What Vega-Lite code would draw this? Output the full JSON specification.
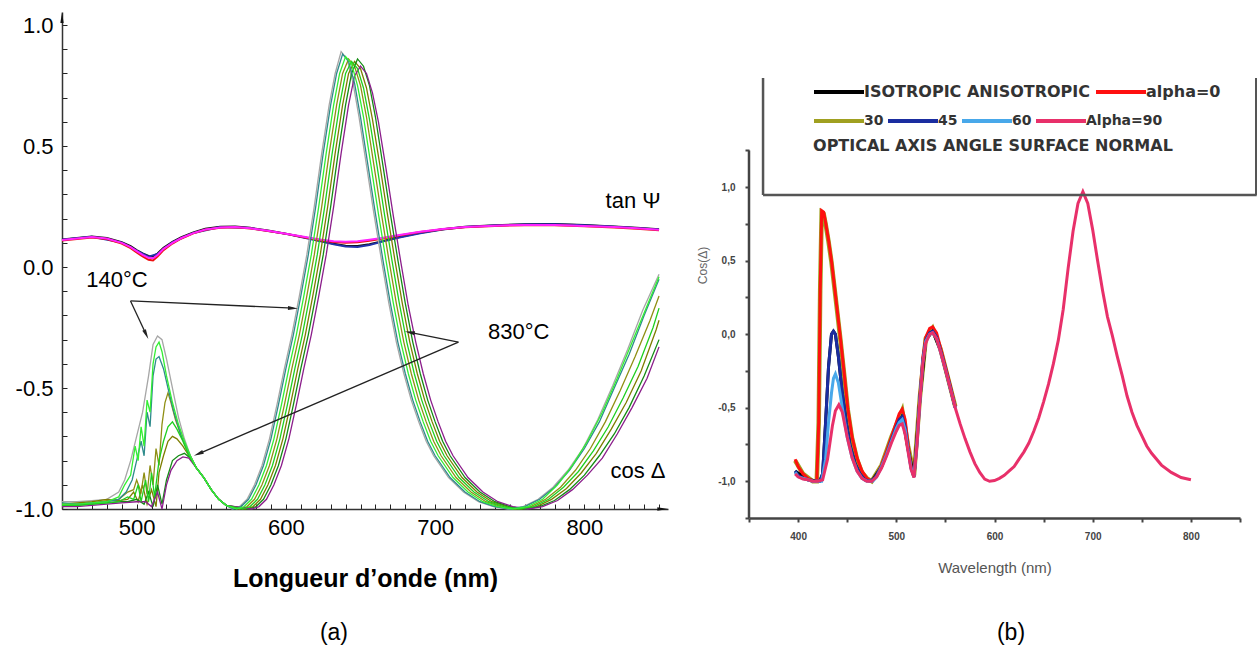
{
"$schema": "https://vega.github.io/schema/vega-lite/v6.json",
"background": "white",
"padding": {"left": 15, "top": 12, "right": 0, "bottom": 0},
"bounds": "flush",
"spacing": 81,
"config": {"view": {"stroke": null}, "axis": {"grid": false, "labelOverlap": false}, "font": "Liberation Sans"},
"datasets": {
"tan": [
{"s":"k","x":450,"y":0.114},{"s":"k","x":460,"y":0.12},{"s":"k","x":470,"y":0.126},{"s":"k","x":480,"y":0.12},{"s":"k","x":490,"y":0.103},{"s":"k","x":496,"y":0.086},{"s":"k","x":500,"y":0.07},{"s":"k","x":504,"y":0.056},{"s":"k","x":508,"y":0.046},{"s":"k","x":511,"y":0.044},{"s":"k","x":514,"y":0.056},{"s":"k","x":518,"y":0.08},{"s":"k","x":524,"y":0.104},{"s":"k","x":530,"y":0.123},{"s":"k","x":538,"y":0.143},{"s":"k","x":546,"y":0.158},{"s":"k","x":556,"y":0.166},{"s":"k","x":566,"y":0.167},{"s":"k","x":576,"y":0.162},{"s":"k","x":588,"y":0.151},{"s":"k","x":600,"y":0.138},{"s":"k","x":612,"y":0.123},{"s":"k","x":624,"y":0.107},{"s":"k","x":632,"y":0.096},{"s":"k","x":640,"y":0.088},{"s":"k","x":648,"y":0.087},{"s":"k","x":656,"y":0.094},{"s":"k","x":664,"y":0.106},{"s":"k","x":676,"y":0.124},{"s":"k","x":690,"y":0.142},{"s":"k","x":705,"y":0.156},{"s":"k","x":720,"y":0.166},{"s":"k","x":740,"y":0.173},{"s":"k","x":760,"y":0.177},{"s":"k","x":780,"y":0.178},{"s":"k","x":800,"y":0.174},{"s":"k","x":820,"y":0.168},{"s":"k","x":835,"y":0.162},{"s":"k","x":850,"y":0.156},
{"s":"b","x":450,"y":0.113},{"s":"b","x":470,"y":0.125},{"s":"b","x":490,"y":0.101},{"s":"b","x":500,"y":0.068},{"s":"b","x":508,"y":0.043},{"s":"b","x":514,"y":0.054},{"s":"b","x":524,"y":0.102},{"s":"b","x":538,"y":0.141},{"s":"b","x":556,"y":0.165},{"s":"b","x":576,"y":0.161},{"s":"b","x":600,"y":0.137},{"s":"b","x":624,"y":0.105},{"s":"b","x":632,"y":0.094},{"s":"b","x":640,"y":0.085},{"s":"b","x":648,"y":0.083},{"s":"b","x":656,"y":0.091},{"s":"b","x":664,"y":0.104},{"s":"b","x":676,"y":0.122},{"s":"b","x":690,"y":0.14},{"s":"b","x":705,"y":0.155},{"s":"b","x":720,"y":0.165},{"s":"b","x":740,"y":0.172},{"s":"b","x":760,"y":0.176},{"s":"b","x":780,"y":0.177},{"s":"b","x":800,"y":0.173},{"s":"b","x":820,"y":0.167},{"s":"b","x":850,"y":0.155},
{"s":"r","x":450,"y":0.11},{"s":"r","x":460,"y":0.116},{"s":"r","x":470,"y":0.122},{"s":"r","x":480,"y":0.116},{"s":"r","x":490,"y":0.097},{"s":"r","x":496,"y":0.078},{"s":"r","x":500,"y":0.06},{"s":"r","x":504,"y":0.044},{"s":"r","x":508,"y":0.03},{"s":"r","x":511,"y":0.027},{"s":"r","x":514,"y":0.043},{"s":"r","x":518,"y":0.07},{"s":"r","x":524,"y":0.097},{"s":"r","x":530,"y":0.118},{"s":"r","x":538,"y":0.139},{"s":"r","x":546,"y":0.154},{"s":"r","x":556,"y":0.162},{"s":"r","x":566,"y":0.164},{"s":"r","x":576,"y":0.159},{"s":"r","x":588,"y":0.149},{"s":"r","x":600,"y":0.137},{"s":"r","x":612,"y":0.123},{"s":"r","x":624,"y":0.11},{"s":"r","x":632,"y":0.103},{"s":"r","x":640,"y":0.1},{"s":"r","x":648,"y":0.102},{"s":"r","x":656,"y":0.109},{"s":"r","x":664,"y":0.117},{"s":"r","x":676,"y":0.13},{"s":"r","x":690,"y":0.145},{"s":"r","x":705,"y":0.156},{"s":"r","x":720,"y":0.164},{"s":"r","x":740,"y":0.17},{"s":"r","x":760,"y":0.173},{"s":"r","x":780,"y":0.173},{"s":"r","x":800,"y":0.169},{"s":"r","x":820,"y":0.163},{"s":"r","x":835,"y":0.158},{"s":"r","x":850,"y":0.152},
{"s":"m","x":450,"y":0.112},{"s":"m","x":460,"y":0.118},{"s":"m","x":470,"y":0.124},{"s":"m","x":480,"y":0.118},{"s":"m","x":490,"y":0.1},{"s":"m","x":496,"y":0.082},{"s":"m","x":500,"y":0.066},{"s":"m","x":504,"y":0.05},{"s":"m","x":508,"y":0.038},{"s":"m","x":511,"y":0.036},{"s":"m","x":514,"y":0.05},{"s":"m","x":518,"y":0.075},{"s":"m","x":524,"y":0.1},{"s":"m","x":530,"y":0.12},{"s":"m","x":538,"y":0.14},{"s":"m","x":546,"y":0.155},{"s":"m","x":556,"y":0.163},{"s":"m","x":566,"y":0.165},{"s":"m","x":576,"y":0.16},{"s":"m","x":588,"y":0.15},{"s":"m","x":600,"y":0.138},{"s":"m","x":612,"y":0.125},{"s":"m","x":624,"y":0.113},{"s":"m","x":632,"y":0.107},{"s":"m","x":640,"y":0.105},{"s":"m","x":648,"y":0.107},{"s":"m","x":656,"y":0.113},{"s":"m","x":664,"y":0.12},{"s":"m","x":676,"y":0.132},{"s":"m","x":690,"y":0.146},{"s":"m","x":705,"y":0.157},{"s":"m","x":720,"y":0.165},{"s":"m","x":740,"y":0.171},{"s":"m","x":760,"y":0.174},{"s":"m","x":780,"y":0.174},{"s":"m","x":800,"y":0.17},{"s":"m","x":820,"y":0.165},{"s":"m","x":835,"y":0.16},{"s":"m","x":850,"y":0.154}
],
"cos": [
{"t":"140°C","x":450,"y":-0.97},{"t":"140°C","x":460,"y":-0.97},{"t":"140°C","x":470,"y":-0.965},{"t":"140°C","x":480,"y":-0.96},{"t":"140°C","x":488,"y":-0.93},{"t":"140°C","x":492,"y":-0.88},{"t":"140°C","x":496,"y":-0.8},{"t":"140°C","x":500,"y":-0.7},{"t":"140°C","x":504,"y":-0.6},{"t":"140°C","x":508,"y":-0.45},{"t":"140°C","x":511,"y":-0.32},{"t":"140°C","x":514,"y":-0.285},{"t":"140°C","x":517,"y":-0.3},{"t":"140°C","x":520,"y":-0.38},{"t":"140°C","x":524,"y":-0.5},{"t":"140°C","x":528,"y":-0.62},{"t":"140°C","x":532,"y":-0.71},{"t":"140°C","x":536,"y":-0.78},{"t":"140°C","x":540,"y":-0.83},{"t":"140°C","x":545,"y":-0.87},{"t":"140°C","x":550,"y":-0.92},{"t":"140°C","x":555,"y":-0.96},{"t":"140°C","x":560,"y":-0.985},{"t":"140°C","x":564,"y":-1},{"t":"140°C","x":569,"y":-0.99},{"t":"140°C","x":574,"y":-0.96},{"t":"140°C","x":579,"y":-0.9},{"t":"140°C","x":584,"y":-0.82},{"t":"140°C","x":589,"y":-0.71},{"t":"140°C","x":594,"y":-0.57},{"t":"140°C","x":599,"y":-0.42},{"t":"140°C","x":604,"y":-0.28},{"t":"140°C","x":609,"y":-0.12},{"t":"140°C","x":614,"y":0.05},{"t":"140°C","x":619,"y":0.25},{"t":"140°C","x":624,"y":0.47},{"t":"140°C","x":629,"y":0.67},{"t":"140°C","x":633,"y":0.8},{"t":"140°C","x":637,"y":0.89},{"t":"140°C","x":641,"y":0.86},{"t":"140°C","x":645,"y":0.76},{"t":"140°C","x":649,"y":0.62},{"t":"140°C","x":654,"y":0.42},{"t":"140°C","x":659,"y":0.22},{"t":"140°C","x":664,"y":0.03},{"t":"140°C","x":669,"y":-0.15},{"t":"140°C","x":674,"y":-0.31},{"t":"140°C","x":679,"y":-0.44},{"t":"140°C","x":684,"y":-0.55},{"t":"140°C","x":689,"y":-0.64},{"t":"140°C","x":694,"y":-0.72},{"t":"140°C","x":699,"y":-0.78},{"t":"140°C","x":709,"y":-0.87},{"t":"140°C","x":719,"y":-0.93},{"t":"140°C","x":729,"y":-0.97},{"t":"140°C","x":739,"y":-0.99},{"t":"140°C","x":749,"y":-1},{"t":"140°C","x":759,"y":-0.99},{"t":"140°C","x":769,"y":-0.96},{"t":"140°C","x":779,"y":-0.91},{"t":"140°C","x":789,"y":-0.84},{"t":"140°C","x":799,"y":-0.75},{"t":"140°C","x":809,"y":-0.63},{"t":"140°C","x":819,"y":-0.49},{"t":"140°C","x":829,"y":-0.34},{"t":"140°C","x":839,"y":-0.18},{"t":"140°C","x":850,"y":-0.03},
{"t":"640°C","x":450,"y":-0.98},{"t":"640°C","x":460,"y":-0.975},{"t":"640°C","x":470,"y":-0.97},{"t":"640°C","x":480,"y":-0.96},{"t":"640°C","x":488,"y":-0.965},{"t":"640°C","x":494,"y":-0.96},{"t":"640°C","x":498,"y":-0.93},{"t":"640°C","x":501,"y":-0.97},{"t":"640°C","x":504,"y":-0.9},{"t":"640°C","x":507,"y":-0.98},{"t":"640°C","x":510,"y":-0.92},{"t":"640°C","x":513,"y":-0.99},{"t":"640°C","x":515,"y":-0.85},{"t":"640°C","x":518,"y":-0.78},{"t":"640°C","x":521,"y":-0.72},{"t":"640°C","x":524,"y":-0.7},{"t":"640°C","x":527,"y":-0.71},{"t":"640°C","x":531,"y":-0.74},{"t":"640°C","x":535,"y":-0.78},{"t":"640°C","x":540,"y":-0.83},{"t":"640°C","x":545,"y":-0.87},{"t":"640°C","x":550,"y":-0.92},{"t":"640°C","x":555,"y":-0.96},{"t":"640°C","x":560,"y":-0.985},{"t":"640°C","x":573,"y":-1},{"t":"640°C","x":578,"y":-0.99},{"t":"640°C","x":583,"y":-0.96},{"t":"640°C","x":588,"y":-0.9},{"t":"640°C","x":593,"y":-0.82},{"t":"640°C","x":598,"y":-0.71},{"t":"640°C","x":603,"y":-0.57},{"t":"640°C","x":608,"y":-0.42},{"t":"640°C","x":613,"y":-0.28},{"t":"640°C","x":618,"y":-0.12},{"t":"640°C","x":623,"y":0.05},{"t":"640°C","x":628,"y":0.25},{"t":"640°C","x":633,"y":0.47},{"t":"640°C","x":638,"y":0.67},{"t":"640°C","x":642,"y":0.8},{"t":"640°C","x":646,"y":0.85},{"t":"640°C","x":650,"y":0.82},{"t":"640°C","x":654,"y":0.74},{"t":"640°C","x":658,"y":0.61},{"t":"640°C","x":663,"y":0.42},{"t":"640°C","x":668,"y":0.22},{"t":"640°C","x":673,"y":0.03},{"t":"640°C","x":678,"y":-0.15},{"t":"640°C","x":683,"y":-0.31},{"t":"640°C","x":688,"y":-0.44},{"t":"640°C","x":693,"y":-0.55},{"t":"640°C","x":698,"y":-0.64},{"t":"640°C","x":703,"y":-0.72},{"t":"640°C","x":708,"y":-0.78},{"t":"640°C","x":718,"y":-0.87},{"t":"640°C","x":728,"y":-0.93},{"t":"640°C","x":738,"y":-0.97},{"t":"640°C","x":748,"y":-0.99},{"t":"640°C","x":758,"y":-1},{"t":"640°C","x":768,"y":-0.99},{"t":"640°C","x":778,"y":-0.96},{"t":"640°C","x":788,"y":-0.915},{"t":"640°C","x":798,"y":-0.85},{"t":"640°C","x":808,"y":-0.77},{"t":"640°C","x":818,"y":-0.67},{"t":"640°C","x":828,"y":-0.56},{"t":"640°C","x":838,"y":-0.43},{"t":"640°C","x":848,"y":-0.26},{"t":"640°C","x":850,"y":-0.22},
{"t":"440°C","x":450,"y":-0.985},{"t":"440°C","x":460,"y":-0.98},{"t":"440°C","x":470,"y":-0.975},{"t":"440°C","x":480,"y":-0.965},{"t":"440°C","x":488,"y":-0.96},{"t":"440°C","x":494,"y":-0.93},{"t":"440°C","x":498,"y":-0.92},{"t":"440°C","x":500,"y":-0.88},{"t":"440°C","x":503,"y":-0.93},{"t":"440°C","x":505,"y":-0.85},{"t":"440°C","x":507,"y":-0.94},{"t":"440°C","x":509,"y":-0.82},{"t":"440°C","x":511,"y":-0.9},{"t":"440°C","x":513,"y":-0.75},{"t":"440°C","x":515,"y":-0.82},{"t":"440°C","x":517,"y":-0.65},{"t":"440°C","x":519,"y":-0.56},{"t":"440°C","x":521,"y":-0.52},{"t":"440°C","x":523,"y":-0.56},{"t":"440°C","x":526,"y":-0.63},{"t":"440°C","x":530,"y":-0.7},{"t":"440°C","x":535,"y":-0.77},{"t":"440°C","x":540,"y":-0.83},{"t":"440°C","x":545,"y":-0.87},{"t":"440°C","x":550,"y":-0.92},{"t":"440°C","x":555,"y":-0.96},{"t":"440°C","x":560,"y":-0.985},{"t":"440°C","x":569,"y":-1},{"t":"440°C","x":574,"y":-0.99},{"t":"440°C","x":579,"y":-0.96},{"t":"440°C","x":584,"y":-0.9},{"t":"440°C","x":589,"y":-0.82},{"t":"440°C","x":594,"y":-0.71},{"t":"440°C","x":599,"y":-0.57},{"t":"440°C","x":604,"y":-0.42},{"t":"440°C","x":609,"y":-0.28},{"t":"440°C","x":614,"y":-0.12},{"t":"440°C","x":619,"y":0.05},{"t":"440°C","x":624,"y":0.25},{"t":"440°C","x":629,"y":0.47},{"t":"440°C","x":634,"y":0.67},{"t":"440°C","x":638,"y":0.8},{"t":"440°C","x":642,"y":0.86},{"t":"440°C","x":646,"y":0.83},{"t":"440°C","x":650,"y":0.75},{"t":"440°C","x":654,"y":0.62},{"t":"440°C","x":659,"y":0.42},{"t":"440°C","x":664,"y":0.22},{"t":"440°C","x":669,"y":0.03},{"t":"440°C","x":674,"y":-0.15},{"t":"440°C","x":679,"y":-0.31},{"t":"440°C","x":684,"y":-0.44},{"t":"440°C","x":689,"y":-0.55},{"t":"440°C","x":694,"y":-0.64},{"t":"440°C","x":699,"y":-0.72},{"t":"440°C","x":704,"y":-0.78},{"t":"440°C","x":714,"y":-0.87},{"t":"440°C","x":724,"y":-0.93},{"t":"440°C","x":734,"y":-0.97},{"t":"440°C","x":744,"y":-0.99},{"t":"440°C","x":754,"y":-1},{"t":"440°C","x":764,"y":-0.99},{"t":"440°C","x":774,"y":-0.96},{"t":"440°C","x":784,"y":-0.91},{"t":"440°C","x":794,"y":-0.84},{"t":"440°C","x":804,"y":-0.75},{"t":"440°C","x":814,"y":-0.64},{"t":"440°C","x":824,"y":-0.51},{"t":"440°C","x":834,"y":-0.37},{"t":"440°C","x":844,"y":-0.22},{"t":"440°C","x":850,"y":-0.12},
{"t":"740°C","x":450,"y":-0.99},{"t":"740°C","x":460,"y":-0.985},{"t":"740°C","x":470,"y":-0.98},{"t":"740°C","x":480,"y":-0.975},{"t":"740°C","x":488,"y":-0.97},{"t":"740°C","x":494,"y":-0.97},{"t":"740°C","x":500,"y":-0.96},{"t":"740°C","x":505,"y":-0.98},{"t":"740°C","x":508,"y":-0.93},{"t":"740°C","x":511,"y":-0.99},{"t":"740°C","x":514,"y":-0.9},{"t":"740°C","x":517,"y":-0.98},{"t":"740°C","x":520,"y":-0.88},{"t":"740°C","x":524,"y":-0.8},{"t":"740°C","x":528,"y":-0.78},{"t":"740°C","x":532,"y":-0.77},{"t":"740°C","x":536,"y":-0.79},{"t":"740°C","x":540,"y":-0.83},{"t":"740°C","x":545,"y":-0.87},{"t":"740°C","x":550,"y":-0.92},{"t":"740°C","x":555,"y":-0.96},{"t":"740°C","x":560,"y":-0.985},{"t":"740°C","x":575,"y":-1},{"t":"740°C","x":580,"y":-0.99},{"t":"740°C","x":585,"y":-0.96},{"t":"740°C","x":590,"y":-0.9},{"t":"740°C","x":595,"y":-0.82},{"t":"740°C","x":600,"y":-0.71},{"t":"740°C","x":605,"y":-0.57},{"t":"740°C","x":610,"y":-0.42},{"t":"740°C","x":615,"y":-0.28},{"t":"740°C","x":620,"y":-0.12},{"t":"740°C","x":625,"y":0.05},{"t":"740°C","x":630,"y":0.25},{"t":"740°C","x":635,"y":0.47},{"t":"740°C","x":640,"y":0.67},{"t":"740°C","x":644,"y":0.8},{"t":"740°C","x":648,"y":0.86},{"t":"740°C","x":652,"y":0.83},{"t":"740°C","x":656,"y":0.75},{"t":"740°C","x":660,"y":0.62},{"t":"740°C","x":665,"y":0.42},{"t":"740°C","x":670,"y":0.22},{"t":"740°C","x":675,"y":0.03},{"t":"740°C","x":680,"y":-0.15},{"t":"740°C","x":685,"y":-0.31},{"t":"740°C","x":690,"y":-0.44},{"t":"740°C","x":695,"y":-0.55},{"t":"740°C","x":700,"y":-0.64},{"t":"740°C","x":705,"y":-0.72},{"t":"740°C","x":710,"y":-0.78},{"t":"740°C","x":720,"y":-0.87},{"t":"740°C","x":730,"y":-0.93},{"t":"740°C","x":740,"y":-0.97},{"t":"740°C","x":750,"y":-0.99},{"t":"740°C","x":760,"y":-1},{"t":"740°C","x":770,"y":-0.99},{"t":"740°C","x":780,"y":-0.965},{"t":"740°C","x":790,"y":-0.92},{"t":"740°C","x":800,"y":-0.86},{"t":"740°C","x":810,"y":-0.78},{"t":"740°C","x":820,"y":-0.69},{"t":"740°C","x":830,"y":-0.58},{"t":"740°C","x":840,"y":-0.45},{"t":"740°C","x":850,"y":-0.3},
{"t":"830°C","x":450,"y":-0.99},{"t":"830°C","x":460,"y":-0.99},{"t":"830°C","x":470,"y":-0.985},{"t":"830°C","x":480,"y":-0.98},{"t":"830°C","x":490,"y":-0.975},{"t":"830°C","x":500,"y":-0.97},{"t":"830°C","x":506,"y":-0.97},{"t":"830°C","x":510,"y":-0.99},{"t":"830°C","x":514,"y":-0.93},{"t":"830°C","x":517,"y":-1},{"t":"830°C","x":520,"y":-0.9},{"t":"830°C","x":523,"y":-0.84},{"t":"830°C","x":527,"y":-0.8},{"t":"830°C","x":531,"y":-0.785},{"t":"830°C","x":535,"y":-0.79},{"t":"830°C","x":540,"y":-0.83},{"t":"830°C","x":545,"y":-0.87},{"t":"830°C","x":550,"y":-0.92},{"t":"830°C","x":555,"y":-0.96},{"t":"830°C","x":560,"y":-0.985},{"t":"830°C","x":577,"y":-1},{"t":"830°C","x":582,"y":-0.99},{"t":"830°C","x":587,"y":-0.96},{"t":"830°C","x":592,"y":-0.9},{"t":"830°C","x":597,"y":-0.82},{"t":"830°C","x":602,"y":-0.71},{"t":"830°C","x":607,"y":-0.57},{"t":"830°C","x":612,"y":-0.42},{"t":"830°C","x":617,"y":-0.28},{"t":"830°C","x":622,"y":-0.12},{"t":"830°C","x":627,"y":0.05},{"t":"830°C","x":632,"y":0.25},{"t":"830°C","x":637,"y":0.47},{"t":"830°C","x":642,"y":0.67},{"t":"830°C","x":646,"y":0.79},{"t":"830°C","x":650,"y":0.83},{"t":"830°C","x":654,"y":0.8},{"t":"830°C","x":658,"y":0.72},{"t":"830°C","x":662,"y":0.6},{"t":"830°C","x":667,"y":0.41},{"t":"830°C","x":672,"y":0.21},{"t":"830°C","x":677,"y":0.02},{"t":"830°C","x":682,"y":-0.16},{"t":"830°C","x":687,"y":-0.31},{"t":"830°C","x":692,"y":-0.44},{"t":"830°C","x":697,"y":-0.55},{"t":"830°C","x":702,"y":-0.64},{"t":"830°C","x":707,"y":-0.72},{"t":"830°C","x":712,"y":-0.78},{"t":"830°C","x":722,"y":-0.87},{"t":"830°C","x":732,"y":-0.93},{"t":"830°C","x":742,"y":-0.97},{"t":"830°C","x":752,"y":-0.99},{"t":"830°C","x":762,"y":-1},{"t":"830°C","x":772,"y":-0.99},{"t":"830°C","x":782,"y":-0.965},{"t":"830°C","x":792,"y":-0.92},{"t":"830°C","x":802,"y":-0.86},{"t":"830°C","x":812,"y":-0.79},{"t":"830°C","x":822,"y":-0.69},{"t":"830°C","x":832,"y":-0.58},{"t":"830°C","x":842,"y":-0.46},{"t":"830°C","x":850,"y":-0.33},
{"t":"240°C","x":450,"y":-0.975},{"t":"240°C","x":460,"y":-0.98},{"t":"240°C","x":470,"y":-0.975},{"t":"240°C","x":480,"y":-0.97},{"t":"240°C","x":488,"y":-0.96},{"t":"240°C","x":493,"y":-0.93},{"t":"240°C","x":497,"y":-0.88},{"t":"240°C","x":500,"y":-0.8},{"t":"240°C","x":503,"y":-0.72},{"t":"240°C","x":505,"y":-0.78},{"t":"240°C","x":507,"y":-0.6},{"t":"240°C","x":509,"y":-0.66},{"t":"240°C","x":511,"y":-0.45},{"t":"240°C","x":513,"y":-0.38},{"t":"240°C","x":515,"y":-0.37},{"t":"240°C","x":518,"y":-0.42},{"t":"240°C","x":521,"y":-0.5},{"t":"240°C","x":525,"y":-0.6},{"t":"240°C","x":530,"y":-0.7},{"t":"240°C","x":535,"y":-0.77},{"t":"240°C","x":540,"y":-0.83},{"t":"240°C","x":545,"y":-0.87},{"t":"240°C","x":550,"y":-0.92},{"t":"240°C","x":555,"y":-0.96},{"t":"240°C","x":560,"y":-0.985},{"t":"240°C","x":565,"y":-1},{"t":"240°C","x":570,"y":-0.99},{"t":"240°C","x":575,"y":-0.96},{"t":"240°C","x":580,"y":-0.9},{"t":"240°C","x":585,"y":-0.82},{"t":"240°C","x":590,"y":-0.71},{"t":"240°C","x":595,"y":-0.57},{"t":"240°C","x":600,"y":-0.42},{"t":"240°C","x":605,"y":-0.28},{"t":"240°C","x":610,"y":-0.12},{"t":"240°C","x":615,"y":0.05},{"t":"240°C","x":620,"y":0.25},{"t":"240°C","x":625,"y":0.47},{"t":"240°C","x":630,"y":0.67},{"t":"240°C","x":634,"y":0.8},{"t":"240°C","x":638,"y":0.88},{"t":"240°C","x":642,"y":0.85},{"t":"240°C","x":646,"y":0.76},{"t":"240°C","x":650,"y":0.62},{"t":"240°C","x":655,"y":0.42},{"t":"240°C","x":660,"y":0.22},{"t":"240°C","x":665,"y":0.03},{"t":"240°C","x":670,"y":-0.15},{"t":"240°C","x":675,"y":-0.31},{"t":"240°C","x":680,"y":-0.44},{"t":"240°C","x":685,"y":-0.55},{"t":"240°C","x":690,"y":-0.64},{"t":"240°C","x":695,"y":-0.72},{"t":"240°C","x":700,"y":-0.78},{"t":"240°C","x":710,"y":-0.87},{"t":"240°C","x":720,"y":-0.93},{"t":"240°C","x":730,"y":-0.97},{"t":"240°C","x":740,"y":-0.99},{"t":"240°C","x":750,"y":-1},{"t":"240°C","x":760,"y":-0.99},{"t":"240°C","x":770,"y":-0.96},{"t":"240°C","x":780,"y":-0.91},{"t":"240°C","x":790,"y":-0.84},{"t":"240°C","x":800,"y":-0.75},{"t":"240°C","x":810,"y":-0.64},{"t":"240°C","x":820,"y":-0.5},{"t":"240°C","x":830,"y":-0.36},{"t":"240°C","x":840,"y":-0.2},{"t":"240°C","x":850,"y":-0.05},
{"t":"540°C","x":450,"y":-0.985},{"t":"540°C","x":460,"y":-0.985},{"t":"540°C","x":470,"y":-0.98},{"t":"540°C","x":480,"y":-0.975},{"t":"540°C","x":488,"y":-0.97},{"t":"540°C","x":494,"y":-0.95},{"t":"540°C","x":498,"y":-0.96},{"t":"540°C","x":501,"y":-0.9},{"t":"540°C","x":503,"y":-0.97},{"t":"540°C","x":506,"y":-0.88},{"t":"540°C","x":508,"y":-0.97},{"t":"540°C","x":510,"y":-0.85},{"t":"540°C","x":512,"y":-0.95},{"t":"540°C","x":515,"y":-0.8},{"t":"540°C","x":518,"y":-0.72},{"t":"540°C","x":521,"y":-0.66},{"t":"540°C","x":524,"y":-0.64},{"t":"540°C","x":527,"y":-0.67},{"t":"540°C","x":531,"y":-0.72},{"t":"540°C","x":535,"y":-0.78},{"t":"540°C","x":540,"y":-0.83},{"t":"540°C","x":545,"y":-0.87},{"t":"540°C","x":550,"y":-0.92},{"t":"540°C","x":555,"y":-0.96},{"t":"540°C","x":560,"y":-0.985},{"t":"540°C","x":571,"y":-1},{"t":"540°C","x":576,"y":-0.99},{"t":"540°C","x":581,"y":-0.96},{"t":"540°C","x":586,"y":-0.9},{"t":"540°C","x":591,"y":-0.82},{"t":"540°C","x":596,"y":-0.71},{"t":"540°C","x":601,"y":-0.57},{"t":"540°C","x":606,"y":-0.42},{"t":"540°C","x":611,"y":-0.28},{"t":"540°C","x":616,"y":-0.12},{"t":"540°C","x":621,"y":0.05},{"t":"540°C","x":626,"y":0.25},{"t":"540°C","x":631,"y":0.47},{"t":"540°C","x":636,"y":0.67},{"t":"540°C","x":640,"y":0.8},{"t":"540°C","x":644,"y":0.85},{"t":"540°C","x":648,"y":0.82},{"t":"540°C","x":652,"y":0.74},{"t":"540°C","x":656,"y":0.61},{"t":"540°C","x":661,"y":0.42},{"t":"540°C","x":666,"y":0.22},{"t":"540°C","x":671,"y":0.03},{"t":"540°C","x":676,"y":-0.15},{"t":"540°C","x":681,"y":-0.31},{"t":"540°C","x":686,"y":-0.44},{"t":"540°C","x":691,"y":-0.55},{"t":"540°C","x":696,"y":-0.64},{"t":"540°C","x":701,"y":-0.72},{"t":"540°C","x":706,"y":-0.78},{"t":"540°C","x":716,"y":-0.87},{"t":"540°C","x":726,"y":-0.93},{"t":"540°C","x":736,"y":-0.97},{"t":"540°C","x":746,"y":-0.99},{"t":"540°C","x":756,"y":-1},{"t":"540°C","x":766,"y":-0.99},{"t":"540°C","x":776,"y":-0.96},{"t":"540°C","x":786,"y":-0.91},{"t":"540°C","x":796,"y":-0.845},{"t":"540°C","x":806,"y":-0.76},{"t":"540°C","x":816,"y":-0.66},{"t":"540°C","x":826,"y":-0.54},{"t":"540°C","x":836,"y":-0.41},{"t":"540°C","x":846,"y":-0.25},{"t":"540°C","x":850,"y":-0.17},
{"t":"340°C","x":450,"y":-0.98},{"t":"340°C","x":460,"y":-0.98},{"t":"340°C","x":470,"y":-0.975},{"t":"340°C","x":480,"y":-0.97},{"t":"340°C","x":488,"y":-0.95},{"t":"340°C","x":492,"y":-0.9},{"t":"340°C","x":496,"y":-0.86},{"t":"340°C","x":499,"y":-0.74},{"t":"340°C","x":501,"y":-0.8},{"t":"340°C","x":503,"y":-0.66},{"t":"340°C","x":505,"y":-0.74},{"t":"340°C","x":507,"y":-0.55},{"t":"340°C","x":509,"y":-0.6},{"t":"340°C","x":511,"y":-0.4},{"t":"340°C","x":513,"y":-0.33},{"t":"340°C","x":515,"y":-0.31},{"t":"340°C","x":517,"y":-0.35},{"t":"340°C","x":520,"y":-0.45},{"t":"340°C","x":524,"y":-0.56},{"t":"340°C","x":528,"y":-0.65},{"t":"340°C","x":532,"y":-0.72},{"t":"340°C","x":536,"y":-0.78},{"t":"340°C","x":540,"y":-0.83},{"t":"340°C","x":545,"y":-0.87},{"t":"340°C","x":550,"y":-0.92},{"t":"340°C","x":555,"y":-0.96},{"t":"340°C","x":560,"y":-0.985},{"t":"340°C","x":567,"y":-1},{"t":"340°C","x":572,"y":-0.99},{"t":"340°C","x":577,"y":-0.96},{"t":"340°C","x":582,"y":-0.9},{"t":"340°C","x":587,"y":-0.82},{"t":"340°C","x":592,"y":-0.71},{"t":"340°C","x":597,"y":-0.57},{"t":"340°C","x":602,"y":-0.42},{"t":"340°C","x":607,"y":-0.28},{"t":"340°C","x":612,"y":-0.12},{"t":"340°C","x":617,"y":0.05},{"t":"340°C","x":622,"y":0.25},{"t":"340°C","x":627,"y":0.47},{"t":"340°C","x":632,"y":0.67},{"t":"340°C","x":636,"y":0.8},{"t":"340°C","x":640,"y":0.87},{"t":"340°C","x":644,"y":0.84},{"t":"340°C","x":648,"y":0.75},{"t":"340°C","x":652,"y":0.62},{"t":"340°C","x":657,"y":0.42},{"t":"340°C","x":662,"y":0.22},{"t":"340°C","x":667,"y":0.03},{"t":"340°C","x":672,"y":-0.15},{"t":"340°C","x":677,"y":-0.31},{"t":"340°C","x":682,"y":-0.44},{"t":"340°C","x":687,"y":-0.55},{"t":"340°C","x":692,"y":-0.64},{"t":"340°C","x":697,"y":-0.72},{"t":"340°C","x":702,"y":-0.78},{"t":"340°C","x":712,"y":-0.87},{"t":"340°C","x":722,"y":-0.93},{"t":"340°C","x":732,"y":-0.97},{"t":"340°C","x":742,"y":-0.99},{"t":"340°C","x":752,"y":-1},{"t":"340°C","x":762,"y":-0.99},{"t":"340°C","x":772,"y":-0.96},{"t":"340°C","x":782,"y":-0.9},{"t":"340°C","x":792,"y":-0.82},{"t":"340°C","x":802,"y":-0.72},{"t":"340°C","x":812,"y":-0.6},{"t":"340°C","x":822,"y":-0.46},{"t":"340°C","x":832,"y":-0.31},{"t":"340°C","x":842,"y":-0.16},{"t":"340°C","x":850,"y":-0.04}
],
"sim": [
{"a":"ISOTROPIC ANISOTROPIC","x":397,"y":-0.93},{"a":"ISOTROPIC ANISOTROPIC","x":410,"y":-0.99},{"a":"ISOTROPIC ANISOTROPIC","x":422,"y":-1},{"a":"ISOTROPIC ANISOTROPIC","x":425,"y":-0.95},{"a":"ISOTROPIC ANISOTROPIC","x":428,"y":-0.6},{"a":"ISOTROPIC ANISOTROPIC","x":431,"y":-0.22},{"a":"ISOTROPIC ANISOTROPIC","x":434,"y":0},{"a":"ISOTROPIC ANISOTROPIC","x":436,"y":0.02},{"a":"ISOTROPIC ANISOTROPIC","x":438,"y":0},{"a":"ISOTROPIC ANISOTROPIC","x":441,"y":-0.15},{"a":"ISOTROPIC ANISOTROPIC","x":445,"y":-0.4},{"a":"ISOTROPIC ANISOTROPIC","x":449,"y":-0.6},{"a":"ISOTROPIC ANISOTROPIC","x":453,"y":-0.76},{"a":"ISOTROPIC ANISOTROPIC","x":458,"y":-0.88},{"a":"ISOTROPIC ANISOTROPIC","x":463,"y":-0.95},{"a":"ISOTROPIC ANISOTROPIC","x":468,"y":-0.99},{"a":"ISOTROPIC ANISOTROPIC","x":475,"y":-1},{"a":"ISOTROPIC ANISOTROPIC","x":485,"y":-0.9},{"a":"ISOTROPIC ANISOTROPIC","x":495,"y":-0.72},{"a":"ISOTROPIC ANISOTROPIC","x":506,"y":-0.56},{"a":"ISOTROPIC ANISOTROPIC","x":512,"y":-0.78},{"a":"ISOTROPIC ANISOTROPIC","x":518,"y":-0.97},{"a":"ISOTROPIC ANISOTROPIC","x":524,"y":-0.44},{"a":"ISOTROPIC ANISOTROPIC","x":530,"y":-0.04},{"a":"ISOTROPIC ANISOTROPIC","x":537,"y":0.02},{"a":"ISOTROPIC ANISOTROPIC","x":545,"y":-0.11},{"a":"ISOTROPIC ANISOTROPIC","x":560,"y":-0.5},
{"a":"alpha=0","x":397,"y":-0.85},{"a":"alpha=0","x":400,"y":-0.9},{"a":"alpha=0","x":405,"y":-0.95},{"a":"alpha=0","x":410,"y":-0.98},{"a":"alpha=0","x":415,"y":-1},{"a":"alpha=0","x":419,"y":-1},{"a":"alpha=0","x":421,"y":-0.6},{"a":"alpha=0","x":422.5,"y":0.3},{"a":"alpha=0","x":424,"y":0.84},{"a":"alpha=0","x":426,"y":0.83},{"a":"alpha=0","x":428,"y":0.76},{"a":"alpha=0","x":431,"y":0.64},{"a":"alpha=0","x":434,"y":0.5},{"a":"alpha=0","x":438,"y":0.27},{"a":"alpha=0","x":443,"y":-0.02},{"a":"alpha=0","x":447,"y":-0.27},{"a":"alpha=0","x":450.5,"y":-0.5},{"a":"alpha=0","x":455,"y":-0.7},{"a":"alpha=0","x":460,"y":-0.84},{"a":"alpha=0","x":465,"y":-0.93},{"a":"alpha=0","x":470,"y":-0.98},{"a":"alpha=0","x":475,"y":-1},{"a":"alpha=0","x":480,"y":-0.96},{"a":"alpha=0","x":485,"y":-0.89},{"a":"alpha=0","x":490,"y":-0.8},{"a":"alpha=0","x":495,"y":-0.7},{"a":"alpha=0","x":500,"y":-0.6},{"a":"alpha=0","x":503,"y":-0.54},{"a":"alpha=0","x":506,"y":-0.51},{"a":"alpha=0","x":509,"y":-0.58},{"a":"alpha=0","x":512,"y":-0.75},{"a":"alpha=0","x":515,"y":-0.9},{"a":"alpha=0","x":518,"y":-0.96},{"a":"alpha=0","x":521,"y":-0.72},{"a":"alpha=0","x":524,"y":-0.42},{"a":"alpha=0","x":527,"y":-0.16},{"a":"alpha=0","x":530,"y":-0.02},{"a":"alpha=0","x":534,"y":0.04},{"a":"alpha=0","x":537,"y":0.05},{"a":"alpha=0","x":541,"y":0.01},{"a":"alpha=0","x":545,"y":-0.09},{"a":"alpha=0","x":550,"y":-0.22},{"a":"alpha=0","x":555,"y":-0.35},{"a":"alpha=0","x":560,"y":-0.49},
{"a":"30","x":397,"y":-0.86},{"a":"30","x":405,"y":-0.95},{"a":"30","x":415,"y":-1},{"a":"30","x":419,"y":-1},{"a":"30","x":421,"y":-0.6},{"a":"30","x":422.5,"y":0.3},{"a":"30","x":424,"y":0.83},{"a":"30","x":426,"y":0.82},{"a":"30","x":428,"y":0.75},{"a":"30","x":431,"y":0.63},{"a":"30","x":434,"y":0.49},{"a":"30","x":438,"y":0.26},{"a":"30","x":443,"y":-0.03},{"a":"30","x":447,"y":-0.28},{"a":"30","x":450.5,"y":-0.51},{"a":"30","x":455,"y":-0.71},{"a":"30","x":460,"y":-0.85},{"a":"30","x":465,"y":-0.94},{"a":"30","x":470,"y":-0.98},{"a":"30","x":475,"y":-1},{"a":"30","x":485,"y":-0.89},{"a":"30","x":495,"y":-0.7},{"a":"30","x":506,"y":-0.52},{"a":"30","x":512,"y":-0.76},{"a":"30","x":518,"y":-0.96},{"a":"30","x":524,"y":-0.43},{"a":"30","x":530,"y":-0.03},{"a":"30","x":537,"y":0.04},{"a":"30","x":545,"y":-0.1},{"a":"30","x":560,"y":-0.49},
{"a":"45","x":397,"y":-0.93},{"a":"45","x":400,"y":-0.96},{"a":"45","x":405,"y":-0.98},{"a":"45","x":410,"y":-0.99},{"a":"45","x":415,"y":-1},{"a":"45","x":422,"y":-1},{"a":"45","x":425,"y":-0.95},{"a":"45","x":428,"y":-0.6},{"a":"45","x":431,"y":-0.22},{"a":"45","x":434,"y":0},{"a":"45","x":436,"y":0.02},{"a":"45","x":438,"y":0},{"a":"45","x":441,"y":-0.15},{"a":"45","x":445,"y":-0.4},{"a":"45","x":449,"y":-0.6},{"a":"45","x":453,"y":-0.76},{"a":"45","x":458,"y":-0.88},{"a":"45","x":463,"y":-0.95},{"a":"45","x":468,"y":-0.99},{"a":"45","x":473,"y":-1},{"a":"45","x":478,"y":-0.98},{"a":"45","x":485,"y":-0.9},{"a":"45","x":490,"y":-0.82},{"a":"45","x":495,"y":-0.72},{"a":"45","x":500,"y":-0.63},{"a":"45","x":503,"y":-0.58},{"a":"45","x":506,"y":-0.56},{"a":"45","x":509,"y":-0.63},{"a":"45","x":512,"y":-0.78},{"a":"45","x":515,"y":-0.91},{"a":"45","x":518,"y":-0.97},{"a":"45","x":521,"y":-0.74},{"a":"45","x":524,"y":-0.44},{"a":"45","x":527,"y":-0.18},{"a":"45","x":530,"y":-0.04},{"a":"45","x":534,"y":0.01},{"a":"45","x":537,"y":0.02},{"a":"45","x":541,"y":-0.02},{"a":"45","x":545,"y":-0.11},{"a":"45","x":550,"y":-0.23},{"a":"45","x":555,"y":-0.36},{"a":"45","x":560,"y":-0.5},
{"a":"60","x":397,"y":-0.94},{"a":"60","x":400,"y":-0.97},{"a":"60","x":405,"y":-0.98},{"a":"60","x":410,"y":-0.99},{"a":"60","x":415,"y":-1},{"a":"60","x":424,"y":-1},{"a":"60","x":428,"y":-0.85},{"a":"60","x":431,"y":-0.6},{"a":"60","x":434,"y":-0.4},{"a":"60","x":436,"y":-0.3},{"a":"60","x":438,"y":-0.27},{"a":"60","x":441,"y":-0.33},{"a":"60","x":445,"y":-0.5},{"a":"60","x":450,"y":-0.7},{"a":"60","x":455,"y":-0.84},{"a":"60","x":460,"y":-0.93},{"a":"60","x":465,"y":-0.98},{"a":"60","x":470,"y":-1},{"a":"60","x":476,"y":-1},{"a":"60","x":480,"y":-0.97},{"a":"60","x":485,"y":-0.9},{"a":"60","x":490,"y":-0.82},{"a":"60","x":495,"y":-0.73},{"a":"60","x":500,"y":-0.64},{"a":"60","x":503,"y":-0.6},{"a":"60","x":506,"y":-0.58},{"a":"60","x":509,"y":-0.65},{"a":"60","x":512,"y":-0.79},{"a":"60","x":515,"y":-0.91},{"a":"60","x":518,"y":-0.97},{"a":"60","x":521,"y":-0.75},{"a":"60","x":524,"y":-0.45},{"a":"60","x":527,"y":-0.19},{"a":"60","x":530,"y":-0.05},{"a":"60","x":534,"y":0},{"a":"60","x":537,"y":0.01},{"a":"60","x":541,"y":-0.03},{"a":"60","x":545,"y":-0.12},{"a":"60","x":550,"y":-0.24},{"a":"60","x":555,"y":-0.37},{"a":"60","x":560,"y":-0.5},
{"a":"Alpha=90","x":397,"y":-0.95},{"a":"Alpha=90","x":400,"y":-0.97},{"a":"Alpha=90","x":405,"y":-0.985},{"a":"Alpha=90","x":410,"y":-0.99},{"a":"Alpha=90","x":415,"y":-1},{"a":"Alpha=90","x":420,"y":-1},{"a":"Alpha=90","x":425,"y":-0.99},{"a":"Alpha=90","x":430,"y":-0.85},{"a":"Alpha=90","x":435,"y":-0.62},{"a":"Alpha=90","x":438,"y":-0.52},{"a":"Alpha=90","x":441.5,"y":-0.48},{"a":"Alpha=90","x":445,"y":-0.53},{"a":"Alpha=90","x":450,"y":-0.7},{"a":"Alpha=90","x":455,"y":-0.84},{"a":"Alpha=90","x":460,"y":-0.93},{"a":"Alpha=90","x":465,"y":-0.98},{"a":"Alpha=90","x":470,"y":-1},{"a":"Alpha=90","x":475,"y":-1},{"a":"Alpha=90","x":480,"y":-0.97},{"a":"Alpha=90","x":485,"y":-0.91},{"a":"Alpha=90","x":490,"y":-0.83},{"a":"Alpha=90","x":495,"y":-0.74},{"a":"Alpha=90","x":500,"y":-0.66},{"a":"Alpha=90","x":503,"y":-0.62},{"a":"Alpha=90","x":506,"y":-0.61},{"a":"Alpha=90","x":509,"y":-0.68},{"a":"Alpha=90","x":512,"y":-0.8},{"a":"Alpha=90","x":515,"y":-0.92},{"a":"Alpha=90","x":518,"y":-0.975},{"a":"Alpha=90","x":521,"y":-0.76},{"a":"Alpha=90","x":524,"y":-0.46},{"a":"Alpha=90","x":527,"y":-0.2},{"a":"Alpha=90","x":530,"y":-0.06},{"a":"Alpha=90","x":534,"y":0},{"a":"Alpha=90","x":537,"y":0.01},{"a":"Alpha=90","x":541,"y":-0.03},{"a":"Alpha=90","x":545,"y":-0.12},{"a":"Alpha=90","x":550,"y":-0.24},{"a":"Alpha=90","x":555,"y":-0.37},{"a":"Alpha=90","x":560,"y":-0.5},{"a":"Alpha=90","x":565,"y":-0.61},{"a":"Alpha=90","x":570,"y":-0.71},{"a":"Alpha=90","x":575,"y":-0.8},{"a":"Alpha=90","x":580,"y":-0.88},{"a":"Alpha=90","x":585,"y":-0.94},{"a":"Alpha=90","x":590,"y":-0.985},{"a":"Alpha=90","x":595,"y":-1},{"a":"Alpha=90","x":600,"y":-0.995},{"a":"Alpha=90","x":605,"y":-0.98},{"a":"Alpha=90","x":610,"y":-0.96},{"a":"Alpha=90","x":615,"y":-0.93},{"a":"Alpha=90","x":620,"y":-0.9},{"a":"Alpha=90","x":625,"y":-0.85},{"a":"Alpha=90","x":630,"y":-0.8},{"a":"Alpha=90","x":635,"y":-0.74},{"a":"Alpha=90","x":640,"y":-0.66},{"a":"Alpha=90","x":645,"y":-0.57},{"a":"Alpha=90","x":650,"y":-0.46},{"a":"Alpha=90","x":655,"y":-0.34},{"a":"Alpha=90","x":660,"y":-0.2},{"a":"Alpha=90","x":665,"y":-0.04},{"a":"Alpha=90","x":670,"y":0.17},{"a":"Alpha=90","x":675,"y":0.45},{"a":"Alpha=90","x":680,"y":0.7},{"a":"Alpha=90","x":685,"y":0.89},{"a":"Alpha=90","x":690,"y":0.97},{"a":"Alpha=90","x":695,"y":0.89},{"a":"Alpha=90","x":700,"y":0.71},{"a":"Alpha=90","x":705,"y":0.5},{"a":"Alpha=90","x":710,"y":0.3},{"a":"Alpha=90","x":715,"y":0.12},{"a":"Alpha=90","x":720,"y":-0.01},{"a":"Alpha=90","x":725,"y":-0.15},{"a":"Alpha=90","x":730,"y":-0.28},{"a":"Alpha=90","x":735,"y":-0.42},{"a":"Alpha=90","x":740,"y":-0.53},{"a":"Alpha=90","x":745,"y":-0.62},{"a":"Alpha=90","x":750,"y":-0.69},{"a":"Alpha=90","x":755,"y":-0.76},{"a":"Alpha=90","x":760,"y":-0.81},{"a":"Alpha=90","x":770,"y":-0.89},{"a":"Alpha=90","x":780,"y":-0.94},{"a":"Alpha=90","x":790,"y":-0.975},{"a":"Alpha=90","x":800,"y":-0.99}
]
},
"hconcat": [
{
"width": 606, "height": 497,
"resolve": {"scale": {"color": "independent"}},
"layer": [
{"data": {"name": "tan"}, "mark": {"type": "line", "strokeWidth": 2},
 "encoding": {
  "x": {"field": "x", "type": "quantitative", "scale": {"domain": [450, 856], "nice": false, "zero": false},
    "axis": {"values": [450,460,470,480,490,500,510,520,530,540,550,560,570,580,590,600,610,620,630,640,650,660,670,680,690,700,710,720,730,740,750,760,770,780,790,800,810,820,830,840,850], "tickCount": 500,
      "labelExpr": "datum.value % 100 === 0 ? datum.value : ''", "tickSize": -5, "labelPadding": 13, "labelFontSize": 22, "labelColor": "#000", "labelFont": "Liberation Sans",
      "domainColor": "#333", "domainWidth": 1.5, "tickColor": "#222", "tickWidth": 1, "labelFlush": false, "labelOverlap": false,
      "title": "Longueur d’onde (nm)", "titleFontSize": 25, "titleFontWeight": "bold", "titleColor": "#000", "titleFont": "Liberation Sans", "titlePadding": 28}},
  "y": {"field": "y", "type": "quantitative", "scale": {"domain": [-1, 1.054], "nice": false, "zero": false},
    "axis": {"values": [-1,-0.9,-0.8,-0.7,-0.6,-0.5,-0.4,-0.3,-0.2,-0.1,0,0.1,0.2,0.3,0.4,0.5,0.6,0.7,0.8,0.9,1], "tickCount": 500,
      "labelExpr": "abs(datum.value*2 - round(datum.value*2)) < 0.001 ? (datum.value < 0 ? '-' : '') + format(abs(datum.value), '.1f') : ''",
      "tickSize": -5, "labelPadding": 14, "labelFontSize": 22, "labelColor": "#000", "labelFont": "Liberation Sans",
      "domainColor": "#333", "domainWidth": 1.5, "tickColor": "#222", "tickWidth": 1, "labelFlush": false, "labelOverlap": false, "title": null}},
  "color": {"field": "s", "type": "nominal", "scale": {"domain": ["k","b","r","m"], "range": ["#111111","#2233aa","#ee1111","#ff22ff"]}, "legend": null}
 }},
{"data": {"name": "cos"}, "mark": {"type": "line", "strokeWidth": 1.3},
 "encoding": {
  "x": {"field": "x", "type": "quantitative"},
  "y": {"field": "y", "type": "quantitative"},
  "color": {"field": "t", "type": "nominal", "scale": {"domain": ["140°C","640°C","440°C","740°C","830°C","240°C","540°C","340°C"], "range": ["#a6a6a6","#7d7d00","#8f8f14","#148c14","#8b1e8b","#2e8b8b","#1fcf1f","#33ee33"]}, "legend": null}
 }},
{"data": {"values": [{}]}, "mark": {"type": "text", "font": "Liberation Sans", "fontSize": 22, "color": "#000", "align": "center", "baseline": "middle"},
 "encoding": {"x": {"datum": 486.8}, "y": {"datum": -0.054}, "text": {"value": "140°C"}}},
{"data": {"values": [{}]}, "mark": {"type": "text", "font": "Liberation Sans", "fontSize": 22, "color": "#000", "align": "center", "baseline": "middle"},
 "encoding": {"x": {"datum": 756}, "y": {"datum": -0.27}, "text": {"value": "830°C"}}},
{"data": {"values": [{}]}, "mark": {"type": "text", "font": "Liberation Sans", "fontSize": 22, "color": "#000", "align": "center", "baseline": "middle"},
 "encoding": {"x": {"datum": 832.6}, "y": {"datum": 0.273}, "text": {"value": "tan Ψ"}}},
{"data": {"values": [{}]}, "mark": {"type": "text", "font": "Liberation Sans", "fontSize": 22, "color": "#000", "align": "center", "baseline": "middle"},
 "encoding": {"x": {"datum": 835.9}, "y": {"datum": -0.843}, "text": {"value": "cos Δ"}}},
{"data": {"values": [{}]}, "mark": {"type": "text", "font": "Liberation Sans", "fontSize": 23, "color": "#000", "align": "center", "baseline": "middle"},
 "encoding": {"x": {"datum": 632.2}, "y": {"datum": -1.5125}, "text": {"value": "(a)"}}},
{"data": {"values": [{}]}, "mark": {"type": "rule", "color": "#222", "strokeWidth": 1.3},
 "encoding": {"x": {"datum": 495.9}, "y": {"datum": -0.14}, "x2": {"datum": 605}, "y2": {"datum": -0.17}}},
{"data": {"values": [{}]}, "mark": {"type": "rule", "color": "#222", "strokeWidth": 1.3},
 "encoding": {"x": {"datum": 495.9}, "y": {"datum": -0.14}, "x2": {"datum": 506.4}, "y2": {"datum": -0.279}}},
{"data": {"values": [{}]}, "mark": {"type": "rule", "color": "#222", "strokeWidth": 1.3},
 "encoding": {"x": {"datum": 715.6}, "y": {"datum": -0.31}, "x2": {"datum": 683}, "y2": {"datum": -0.27}}},
{"data": {"values": [{}]}, "mark": {"type": "rule", "color": "#222", "strokeWidth": 1.3},
 "encoding": {"x": {"datum": 715.6}, "y": {"datum": -0.31}, "x2": {"datum": 541.4}, "y2": {"datum": -0.772}}},
{"data": {"values": [{}]}, "mark": {"type": "point", "shape": "M-1,-0.4L1,0L-1,0.4Z", "filled": true, "color": "#222", "opacity": 1, "size": 100, "angle": 2.6},
 "encoding": {"x": {"datum": 604.75}, "y": {"datum": -0.17}}},
{"data": {"values": [{}]}, "mark": {"type": "point", "shape": "M-1,-0.4L1,0L-1,0.4Z", "filled": true, "color": "#222", "opacity": 1, "size": 100, "angle": 65},
 "encoding": {"x": {"datum": 506.4}, "y": {"datum": -0.279}}},
{"data": {"values": [{}]}, "mark": {"type": "point", "shape": "M-1,-0.4L1,0L-1,0.4Z", "filled": true, "color": "#222", "opacity": 1, "size": 100, "angle": 191.2},
 "encoding": {"x": {"datum": 683}, "y": {"datum": -0.27}}},
{"data": {"values": [{}]}, "mark": {"type": "point", "shape": "M-1,-0.4L1,0L-1,0.4Z", "filled": true, "color": "#222", "opacity": 1, "size": 100, "angle": 156.7},
 "encoding": {"x": {"datum": 541.4}, "y": {"datum": -0.772}}},
{"data": {"values": [{}]}, "mark": {"type": "point", "shape": "M-1,-0.3L1,0L-1,0.3Z", "filled": true, "color": "#111", "opacity": 1, "size": 120},
 "encoding": {"x": {"datum": 852.5}, "y": {"datum": -1}}},
{"data": {"values": [{}]}, "mark": {"type": "point", "shape": "M-0.3,1L0,-1L0.3,1Z", "filled": true, "color": "#111", "opacity": 1, "size": 120},
 "encoding": {"x": {"datum": 450}, "y": {"datum": 1.031}}}
]
},
{
"width": 491, "height": 506,
"resolve": {"scale": {"color": "independent"}, "legend": {"color": "independent"}},
"layer": [
{"data": {"name": "sim"}, "transform": [{"filter": {"field": "a", "oneOf": ["30"]}}],
 "mark": {"type": "line", "strokeWidth": 4.5},
 "encoding": {
  "x": {"field": "x", "type": "quantitative", "scale": {"domain": [350, 850], "nice": false, "zero": false},
    "axis": {"values": [350,400,450,500,550,600,650,700,750,800,850], "tickCount": 500, "labelExpr": "datum.value % 100 === 0 ? datum.value : ''",
      "tickSize": 4, "tickWidth": 2, "tickColor": "#444", "domainColor": "#444", "domainWidth": 2.5, "labelPadding": 9,
      "labelFontSize": 10, "labelFontWeight": "bold", "labelColor": "#444", "labelFlush": false, "labelOverlap": false,
      "title": "Wavelength (nm)", "titleFontSize": 15, "titleFontWeight": "normal", "titleColor": "#555", "titlePadding": 19}},
  "y": {"field": "y", "type": "quantitative", "scale": {"domain": [-1.25, 2.192], "nice": false, "zero": false},
    "axis": {"values": [-1.25,-1,-0.75,-0.5,-0.25,0,0.25,0.5,0.75,1,1.25], "tickCount": 500, "domain": false,
      "labelExpr": "abs(datum.value*2 - round(datum.value*2)) < 0.001 ? (datum.value < 0 ? '-' : '') + replace(format(abs(datum.value), '.1f'), '.', ',') : ''",
      "tickSize": 4, "tickWidth": 2, "tickColor": "#444", "labelPadding": 10, "labelFontSize": 10, "labelFontWeight": "bold", "labelColor": "#444",
      "labelFlush": false, "labelOverlap": false,
      "title": "Cos(Δ)", "titleFontSize": 12, "titleFontWeight": "normal", "titleColor": "#666", "titlePadding": 8}},
  "color": {"field": "a", "type": "nominal", "scale": {"domain": ["30","45","60","Alpha=90"], "range": ["#a0a020","#1a2da0","#48a8ea","#e8306a"]},
    "legend": {"orient": "none", "legendX": 63, "legendY": 82, "direction": "horizontal", "title": null, "symbolType": "stroke", "symbolSize": 2500, "symbolStrokeWidth": 4,
      "labelFont": "DejaVu Sans", "labelFontSize": 14, "labelFontWeight": "bold", "labelColor": "#333", "labelOffset": -2, "columnPadding": -4, "padding": 0, "labelLimit": 400}}
 }},
{"data": {"name": "sim"}, "transform": [{"filter": {"field": "a", "oneOf": ["ISOTROPIC ANISOTROPIC", "alpha=0"]}}],
 "mark": {"type": "line", "strokeWidth": 3},
 "encoding": {
  "x": {"field": "x", "type": "quantitative"},
  "y": {"field": "y", "type": "quantitative"},
  "color": {"field": "a", "type": "nominal", "scale": {"domain": ["ISOTROPIC ANISOTROPIC","alpha=0"], "range": ["#000000","#ff1010"]},
    "legend": {"orient": "none", "legendX": 63, "legendY": 53, "direction": "horizontal", "title": null, "symbolType": "stroke", "symbolSize": 2500, "symbolStrokeWidth": 4,
      "labelFont": "DejaVu Sans", "labelFontSize": 16, "labelFontWeight": "bold", "labelColor": "#333", "labelOffset": -2, "columnPadding": -3, "padding": 0, "labelLimit": 400}}
 }},
{"data": {"name": "sim"}, "transform": [{"filter": {"field": "a", "oneOf": ["45", "60", "Alpha=90"]}}],
 "mark": {"type": "line", "strokeWidth": 3},
 "encoding": {
  "x": {"field": "x", "type": "quantitative"},
  "y": {"field": "y", "type": "quantitative"},
  "color": {"field": "a", "type": "nominal", "scale": {"domain": ["30","45","60","Alpha=90"], "range": ["#a0a020","#1a2da0","#48a8ea","#e8306a"]}, "legend": null}
 }},
{"data": {"values": [{}]}, "mark": {"type": "rule", "color": "#444", "strokeWidth": 2.5},
 "encoding": {"x": {"datum": 350}, "y": {"datum": -1.25}, "y2": {"datum": 1.25}}},
{"data": {"values": [{}]}, "mark": {"type": "rule", "color": "#555", "strokeWidth": 2.5},
 "encoding": {"x": {"datum": 364.3}, "y": {"datum": 0.947}, "y2": {"datum": 1.743}}},
{"data": {"values": [{}]}, "mark": {"type": "rule", "color": "#555", "strokeWidth": 2.5},
 "encoding": {"x": {"datum": 364.3}, "x2": {"datum": 867}, "y": {"datum": 0.947}}},
{"data": {"values": [{}]}, "mark": {"type": "rule", "color": "#555", "strokeWidth": 2},
 "encoding": {"x": {"datum": 866.3}, "y": {"datum": 0.947}, "y2": {"datum": 1.743}}},
{"data": {"values": [{}]}, "mark": {"type": "text", "font": "DejaVu Sans", "fontSize": 16, "fontWeight": "bold", "color": "#333", "align": "left", "baseline": "middle"},
 "encoding": {"x": {"datum": 415.2}, "y": {"datum": 1.281}, "text": {"value": "OPTICAL AXIS ANGLE SURFACE NORMAL"}}},
{"data": {"values": [{}]}, "mark": {"type": "text", "font": "Liberation Sans", "fontSize": 23, "color": "#000", "align": "center", "baseline": "middle"},
 "encoding": {"x": {"datum": 616.8}, "y": {"datum": -2.032}, "text": {"value": "(b)"}}}
]
}
]
}
